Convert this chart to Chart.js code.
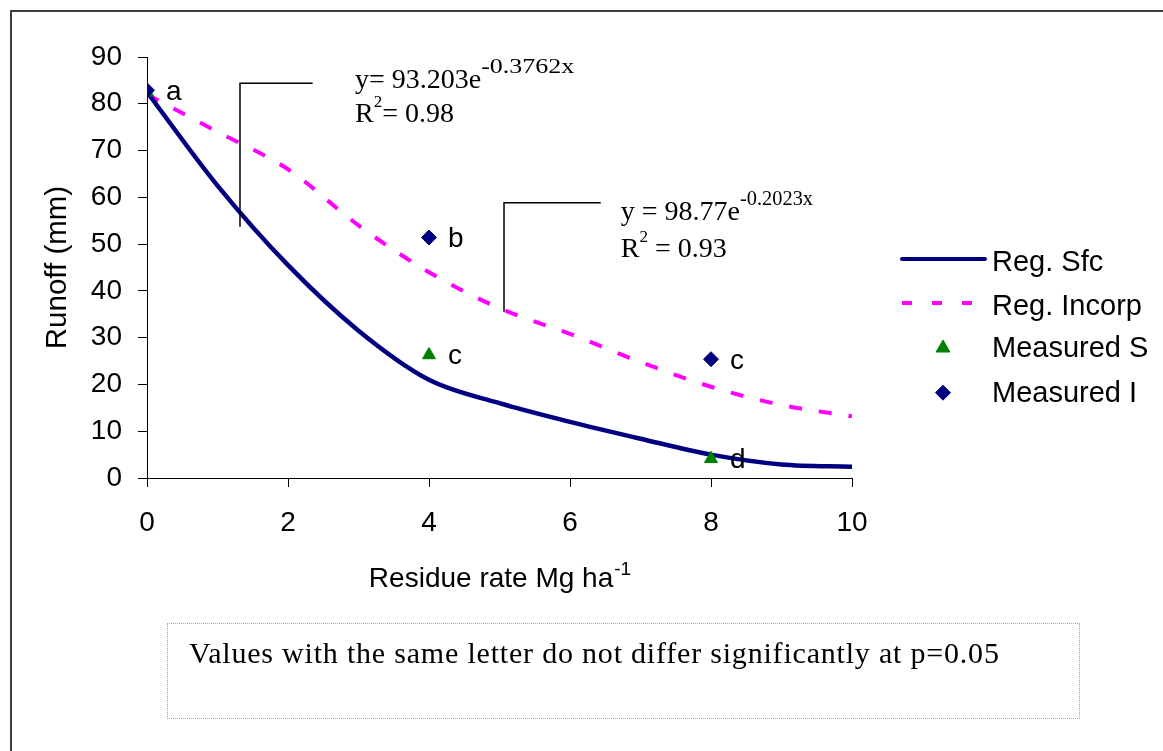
<!DOCTYPE html>
<html>
<head>
<meta charset="utf-8">
<script src="https://cdn.jsdelivr.net/npm/chart.js@4/dist/chart.umd.min.js"></script>
<style>
html,body{margin:0;padding:0;background:#fff;overflow:hidden;width:1163px;height:751px;}
#frame{position:absolute;left:10px;top:10px;width:1300px;height:900px;border-left:2px solid #404040;border-top:2px solid #404040;}
#wrap{position:absolute;left:0;top:0;width:1163px;height:751px;}
#note{position:absolute;left:167px;top:623px;width:913px;height:96px;box-sizing:border-box;border:1px dotted #a8a8a8;
  font-family:'Liberation Serif','Times New Roman',serif;font-size:30px;letter-spacing:0.8px;line-height:32px;color:#000;padding-left:21px;padding-top:13px;white-space:nowrap;}
</style>
</head>
<body>
<div id="frame"></div>
<div id="wrap"><canvas id="c" width="1163" height="751"></canvas></div>
<div id="note">Values with the same letter do not differ significantly at p=0.05</div>
<script>
// ---- data ----
const xValues   = [0, 1, 2, 3, 4, 5, 6, 7, 8, 9, 10];
const regSfc    = [82.5, 62.5, 45.5, 31.5, 21, 16, 12, 8.4, 5, 2.9, 2.4];
const regIncorp = [82, 74, 66, 54, 44, 36.3, 30.8, 24.8, 19.5, 15.6, 13.2];
const measuredX = [0, 4, 8];
const measuredS = [82.5, 26.3, 4.1];
const measuredI = [82.9, 51.4, 25.4];
const lettersS  = ['', 'c', 'd'];
const lettersI  = ['a', 'b', 'c'];
const xTicks    = [0, 2, 4, 6, 8, 10];
const yTicks    = [0, 10, 20, 30, 40, 50, 60, 70, 80, 90];
const seriesNames = ['Reg. Sfc', 'Reg. Incorp', 'Measured S', 'Measured I'];

// ---- annotations (in data units) ----
const equations = [
  {x: 2.95, y1: 83.3, y2: 76.1, main: 'y= 93.203e', sup: '-0.3762x', supScale: 1.3, r: '= 0.98'},
  {x: 6.72, y1: 55.15, y2: 47.3, main: 'y = 98.77e', sup: '-0.2023x', supScale: 1.02, r: ' = 0.93'}
];
const leaders = [
  [[2.35, 84.37], [1.319, 84.37], [1.319, 53.72]],
  [[6.436, 58.85], [5.064, 58.85], [5.064, 35.55]]
];

const SANS = "'Liberation Sans', Arial, sans-serif";
const SERIF = "'Liberation Serif', 'Times New Roman', serif";
const NAVY = '#000080', MAGENTA = '#FF00FF', GREEN = '#008000';

const toXY = (xs, ys) => xs.map((v, i) => ({x: v, y: ys[i]}));

function drawRich(ctx, x, y, parts) {
  let cx = x;
  for (const p of parts) {
    ctx.font = p.size + 'px ' + SERIF;
    const sx = p.sx || 1;
    ctx.save();
    ctx.translate(cx, y + (p.dy || 0));
    ctx.scale(sx, 1);
    ctx.fillText(p.t, 0, 0);
    ctx.restore();
    cx += ctx.measureText(p.t).width * sx;
  }
}

const annot = {
  id: 'annot',
  afterDraw(chart) {
    const {ctx, scales: {x, y}, chartArea} = chart;
    ctx.save();
    // leader lines
    ctx.strokeStyle = '#000';
    ctx.lineWidth = 1.5;
    for (const L of leaders) {
      ctx.beginPath();
      L.forEach((p, i) => {
        const px = x.getPixelForValue(p[0]), py = y.getPixelForValue(p[1]);
        if (i === 0) ctx.moveTo(px, py); else ctx.lineTo(px, py);
      });
      ctx.stroke();
    }
    // equations
    ctx.fillStyle = '#000';
    ctx.textBaseline = 'alphabetic';
    ctx.textAlign = 'left';
    for (const e of equations) {
      const px = x.getPixelForValue(e.x);
      drawRich(ctx, px, y.getPixelForValue(e.y1), [
        {t: e.main, size: 28},
        {t: e.sup, size: 20, dy: -15, sx: e.supScale}
      ]);
      drawRich(ctx, px, y.getPixelForValue(e.y2), [
        {t: 'R', size: 28},
        {t: '2', size: 17, dy: -15},
        {t: e.r, size: 28}
      ]);
    }
    // point letters
    ctx.font = '28px ' + SANS;
    const putLetters = (ys, letters) => {
      measuredX.forEach((mx, i) => {
        if (!letters[i]) return;
        ctx.fillText(letters[i], x.getPixelForValue(mx) + 19, y.getPixelForValue(ys[i]) + 9.5);
      });
    };
    putLetters(measuredI, lettersI);
    putLetters(measuredS, lettersS);

    // x axis title with superscript
    const cxm = (chartArea.left + chartArea.right) / 2;
    ctx.font = '28px ' + SANS;
    const mainT = 'Residue rate Mg ha';
    const w1 = ctx.measureText(mainT).width;
    ctx.font = '19px ' + SANS;
    const w2 = ctx.measureText('-1').width;
    const sx0 = cxm - (w1 + w2) / 2;
    ctx.font = '28px ' + SANS;
    ctx.fillText(mainT, sx0, 586.5);
    ctx.font = '19px ' + SANS;
    ctx.fillText('-1', sx0 + w1 + 1, 575);

    // legend
    const ds = chart.data.datasets;
    const lx0 = 902, lx1 = 985, mx = 943, tx = 992;
    const rows = [259, 303, 348, 392.7];
    const textBase = [270.7, 315, 356.7, 401.7];
    ds.forEach((d, i) => {
      const ry = rows[i];
      if (d.showLine !== false) {
        ctx.beginPath();
        ctx.strokeStyle = d.borderColor;
        ctx.lineWidth = 4;
        if (d.borderDash) { ctx.setLineDash([10, 20]); ctx.lineCap = 'butt'; }
        else { ctx.setLineDash([]); ctx.lineCap = 'round'; }
        ctx.moveTo(lx0, ry); ctx.lineTo(lx1, ry); ctx.stroke();
        ctx.setLineDash([]);
      } else {
        ctx.fillStyle = d.backgroundColor; ctx.strokeStyle = d.borderColor; ctx.lineWidth = 1;
        Chart.helpers.drawPoint(ctx, {pointStyle: d.pointStyle, radius: d.pointStyle === 'triangle' ? 8 : 7.5, borderWidth: 1, rotation: 0}, mx, ry);
      }
      ctx.fillStyle = '#000';
      ctx.font = '29px ' + SANS;
      ctx.fillText(d.label, tx, textBase[i]);
    });
    ctx.restore();
  }
};

Chart.defaults.color = '#000';
Chart.defaults.font.family = SANS;

new Chart(document.getElementById('c'), {
  type: 'line',
  data: {
    datasets: [
      {label: seriesNames[0], data: toXY(xValues, regSfc), borderColor: NAVY, backgroundColor: NAVY,
       borderWidth: 4.5, pointRadius: 0, cubicInterpolationMode: 'monotone', order: 2},
      {label: seriesNames[1], data: toXY(xValues, regIncorp), borderColor: MAGENTA, backgroundColor: MAGENTA,
       borderWidth: 4, borderDash: [13, 17], pointRadius: 0, cubicInterpolationMode: 'monotone', order: 3},
      {label: seriesNames[2], data: toXY(measuredX, measuredS), showLine: false, pointStyle: 'triangle',
       pointRadius: 7.5, pointBorderWidth: 1, borderColor: GREEN, backgroundColor: GREEN, order: 1},
      {label: seriesNames[3], data: toXY(measuredX, measuredI), showLine: false, pointStyle: 'rectRot',
       pointRadius: 7.5, pointBorderWidth: 1, borderColor: NAVY, backgroundColor: NAVY, order: 0}
    ]
  },
  options: {
    responsive: false,
    animation: false,
    devicePixelRatio: 1,
    layout: {padding: {top: 57, right: 311, left: 0, bottom: 0}},
    plugins: {legend: {display: false}, tooltip: {enabled: false}, title: {display: false}},
    scales: {
      x: {
        type: 'linear', min: 0, max: 10,
        afterBuildTicks: s => { s.ticks = xTicks.map(v => ({value: v})); },
        afterFit: s => { s.height = 751 - 478; },
        grid: {drawOnChartArea: false, drawTicks: true, tickLength: 9, color: '#000', lineWidth: 1},
        border: {display: true, color: '#000', width: 1},
        ticks: {font: {size: 28, family: SANS}, color: '#000', padding: 19, maxRotation: 0}
      },
      y: {
        type: 'linear', min: 0, max: 90,
        afterBuildTicks: s => { s.ticks = yTicks.map(v => ({value: v})); },
        afterFit: s => { s.width = 147; },
        grid: {drawOnChartArea: false, drawTicks: true, tickLength: 9, color: '#000', lineWidth: 1},
        border: {display: true, color: '#000', width: 1},
        ticks: {font: {size: 28, family: SANS}, color: '#000', padding: 16},
        title: {display: true, text: 'Runoff (mm)', font: {size: 29.5, family: SANS}, color: '#000', padding: {top: 40, bottom: 0}}
      }
    }
  },
  plugins: [annot]
});
</script>
</body>
</html>
